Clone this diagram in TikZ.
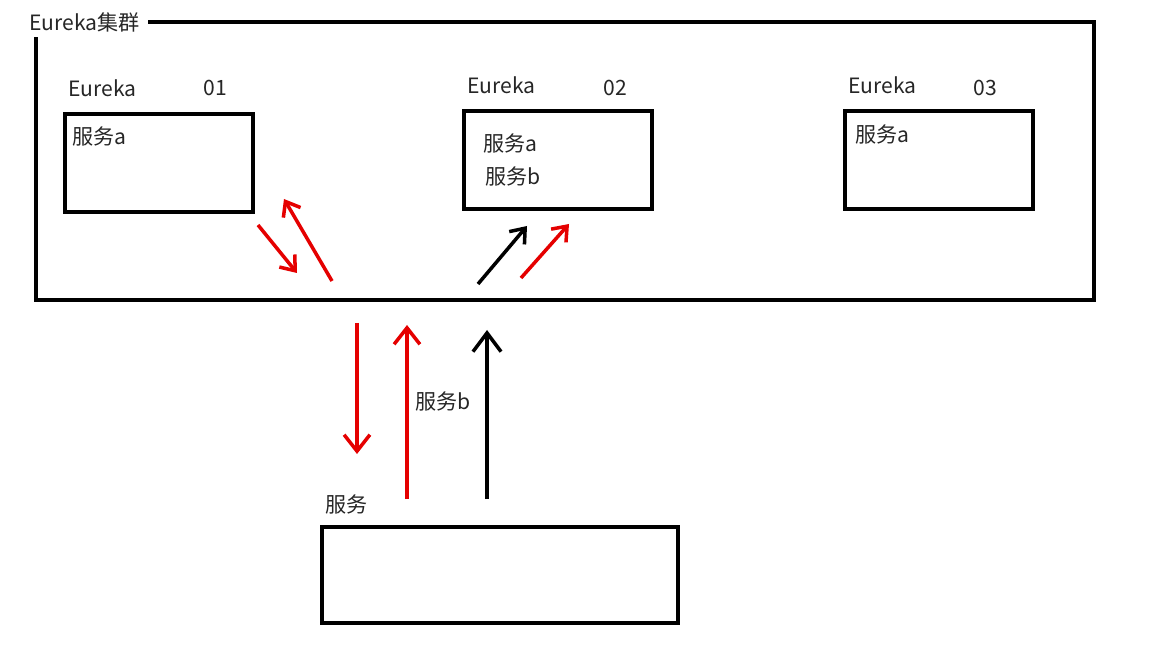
\documentclass[tikz,border=0pt]{standalone}
\usepackage{fontspec}
\setmainfont{Noto Sans CJK SC}
\usetikzlibrary{arrows.meta}
\tikzset{
	server/.style={draw,line width=3pt,minimum width=5.65cm,minimum height=2.95cm,anchor=north west,inner sep=0pt},
	lbl/.style={font=\fontsize{18}{21}\selectfont,inner sep=0pt,text=black!85},
	redarrow/.style={draw=red!90!black,line width=3pt,-{Straight Barb[length=14pt,width=22pt,line width=3pt]}},
	blackarrow/.style={draw=black,line width=3pt,-{Straight Barb[length=16pt,width=24pt,line width=3pt]}},
	small/.style={-{Straight Barb[length=11pt,width=17pt,line width=3pt]}}
}
\begin{document}
\begin{tikzpicture}[x=0.03cm,y=-0.03cm]
	\useasboundingbox[fill=white] (0,0) rectangle (1172,655);
	
	%CLUSTER FRAME
	\node[lbl,anchor=west] (cluster) at (29,22) {Eureka集群};
	\draw[line width=3pt] (148,22)--(1094,22)--(1094,300)--(36,300)--(36,37);
	
	%SERVERS
	\node[server] (e1) at (63,112) {};
	\node[lbl,anchor=west] at (68,88) {Eureka};
	\node[lbl] at (215,88) {01};
	\node[lbl,anchor=west] at (72,136) {服务a};
	%
	\node[server] (e2) at (462,109) {};
	\node[lbl,anchor=west] at (467,85) {Eureka};
	\node[lbl] at (615,88) {02};
	\node[lbl,anchor=west] at (483,143) {服务a};
	\node[lbl,anchor=west] at (485,176) {服务b};
	%
	\node[server] (e3) at (843,109) {};
	\node[lbl,anchor=west] at (848,85) {Eureka};
	\node[lbl] at (985,88) {03};
	\node[lbl,anchor=west] at (855,134) {服务a};
	
	%CLIENT
	\node[server,minimum width=10.69cm,minimum height=2.89cm] (client) at (320,525) {};
	\node[lbl,anchor=west] at (325,504) {服务};
	
	%ARROWS
	\coordinate (d1s) at (258,225); \coordinate (d1e) at (297,273);
	\coordinate (u1s) at (332,281); \coordinate (u1e) at (284,199);
	\coordinate (b2s) at (478,284); \coordinate (b2e) at (527,226);
	\coordinate (r2s) at (521,278); \coordinate (r2e) at (569,224);
	\draw[redarrow,small] (d1s)--(d1e);
	\draw[redarrow,small] (u1s)--(u1e);
	\draw[blackarrow,small] (b2s)--(b2e);
	\draw[redarrow,small] (r2s)--(r2e);
	%
	\coordinate (v1s) at (357,323); \coordinate (v1e) at (357,454);
	\coordinate (v2s) at (407,499); \coordinate (v2e) at (407,325);
	\coordinate (v3s) at (487,499); \coordinate (v3e) at (487,330);
	\draw[redarrow] (v1s)--(v1e);
	\draw[redarrow] (v2s)--(v2e);
	\draw[blackarrow] (v3s)--(v3e);
	\node[lbl,anchor=west] at (415,401) {服务b};
\end{tikzpicture}
\end{document}
